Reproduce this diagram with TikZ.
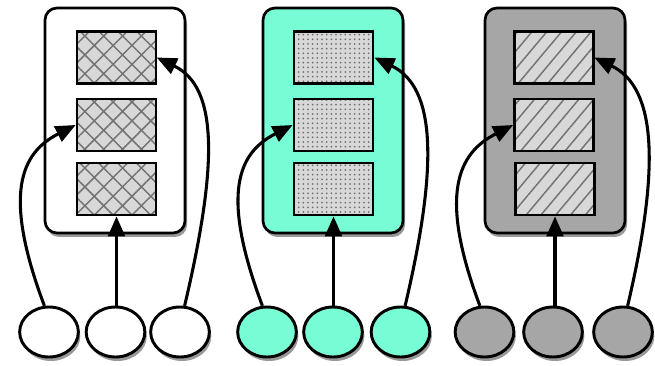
\documentclass[tikz,border=0pt]{standalone}
\usetikzlibrary{shadows,patterns.meta,arrows.meta,shapes.geometric}
\definecolor{aquafill}{RGB}{120,252,214}
\definecolor{slatefill}{RGB}{166,166,166}
\definecolor{cellfill}{RGB}{216,216,216}
\definecolor{hatchink}{RGB}{115,115,115}
\begin{document}
\begin{tikzpicture}[x=0.75pt,y=-0.75pt,
  softshadow/.style={drop shadow={shadow xshift=1.5pt,shadow yshift=-3pt,fill=black,opacity=0.4}},
  container/.style={draw,line width=2pt,rounded corners=9pt,minimum width=105pt,minimum height=168.75pt,inner sep=0pt,softshadow},
  cell/.style={draw,line width=2pt,minimum width=59.25pt,minimum height=39pt,inner sep=0pt,preaction={fill=cellfill},pattern color=hatchink},
  diamonds/.style={cell,pattern={Hatch[angle=45,distance=10pt,line width=1.1pt]}},
  dotted cell/.style={cell,pattern={Dots[radius=0.75pt,distance=3.5pt]}},
  slanted/.style={cell,pattern={Lines[angle=50,distance=8.5pt,line width=1.1pt]}},
  source/.style={ellipse,draw,line width=2.2pt,minimum width=44pt,minimum height=37.5pt,inner sep=0pt,softshadow},
  link/.style={line width=2.3pt,-{Triangle[length=15pt,width=12.5pt]}}
]
\useasboundingbox (0,0) rectangle (655,366);

% ---- white group ----
\node[container,fill=white] (box1) at (115,120.5) {};
\node[diamonds] (c11) at (116.5,57.5) {};
\node[diamonds] (c12) at (116.5,125) {};
\node[diamonds] (c13) at (116.5,189) {};
\node[source,fill=white] (e1) at (49,332) {};
\node[source,fill=white] (e2) at (115.5,332) {};
\node[source,fill=white] (e3) at (180,332) {};
\draw[link] (e1.100) .. controls +(-42,-112) and +(-55,28) .. (c12.west);
\draw[link] (c13.south |- e2.north) -- (c13.south);
\draw[link] (e3.80) .. controls +(33,-140) and +(62,30) .. (c11.east);

% ---- aquamarine group ----
\node[container,fill=aquafill] (box2) at (333,120.5) {};
\node[dotted cell] (c21) at (333.5,57.5) {};
\node[dotted cell] (c22) at (333.5,125) {};
\node[dotted cell] (c23) at (333.5,189) {};
\node[source,fill=aquafill] (e4) at (267,332) {};
\node[source,fill=aquafill] (e5) at (333,332) {};
\node[source,fill=aquafill] (e6) at (400.5,332) {};
\draw[link] (e4.100) .. controls +(-42,-112) and +(-55,28) .. (c22.west);
\draw[link] (c23.south |- e5.north) -- (c23.south);
\draw[link] (e6.80) .. controls +(33,-140) and +(62,30) .. (c21.east);

% ---- grey group ----
\node[container,fill=slatefill] (box3) at (555,120.5) {};
\node[slanted] (c31) at (554,57.5) {};
\node[slanted] (c32) at (554,125) {};
\node[slanted] (c33) at (555,189) {};
\node[source,fill=slatefill] (e7) at (484.5,332) {};
\node[source,fill=slatefill] (e8) at (553,332) {};
\node[source,fill=slatefill] (e9) at (623,332) {};
\draw[link] (e7.100) .. controls +(-42,-112) and +(-55,28) .. (c32.west);
\draw[link] (c33.south |- e8.north) -- (c33.south);
\draw[link] (e9.80) .. controls +(33,-140) and +(62,30) .. (c31.east);
\end{tikzpicture}
\end{document}
